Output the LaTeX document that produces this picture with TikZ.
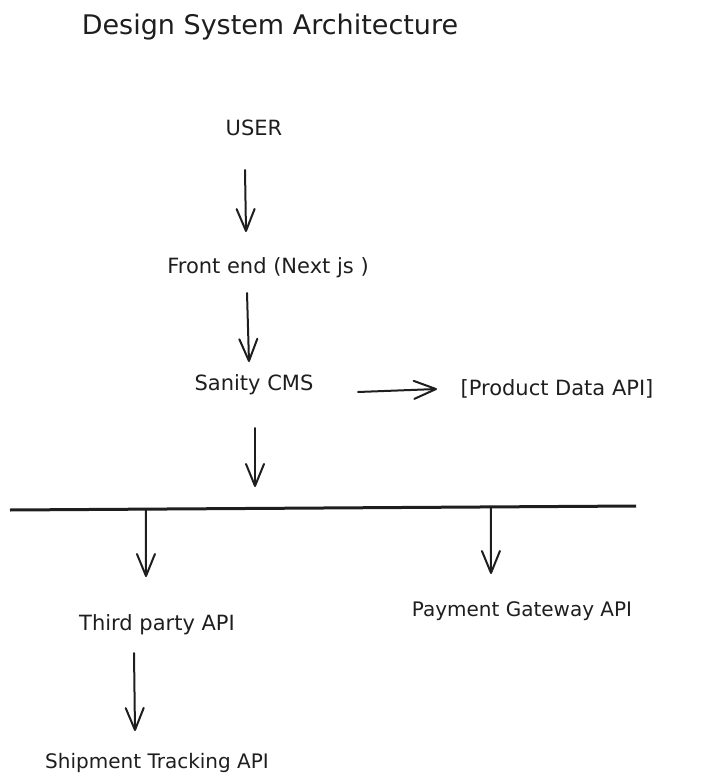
\documentclass[tikz,border=0pt]{standalone}
\usepackage{fontspec}
\setmainfont{DejaVu Sans}
\usetikzlibrary{arrows.meta,calc}

\definecolor{ink}{HTML}{1E1E1E}
\tikzset{
  lbl/.style={anchor=base, inner sep=0pt, text=ink, font=\fontsize{21}{25}\selectfont},
  arr/.style={ink, line width=2pt, line cap=round, -{Straight Barb[length=22pt,width=18pt,line cap=round,line join=round]}},
}

\begin{document}
\begin{tikzpicture}[x=1pt,y=-1pt]
                \useasboundingbox (0,0) rectangle (701,783);
                \node[lbl, font=\fontsize{27}{31}\selectfont] (title) at (270,35) {Design System Architecture};
                \node[lbl] (user) at (254,136) {USER};
                \node[lbl] (front) at (268,273) {Front end (Next js )};
                \node[lbl] (cms) at (254,390) {Sanity CMS};
                \node[lbl] (product) at (557,395) {[Product Data API]};
                \node[lbl] (third) at (157,630) {Third party API};
                \node[lbl, font=\fontsize{20}{24}\selectfont] (payment) at (522,616) {Payment Gateway API};
                \node[lbl, font=\fontsize{20}{24}\selectfont] (shipment) at (157,768) {Shipment Tracking API};
                % bus line
                \coordinate (busL) at (10,510);
                \coordinate (busR) at (636,506);
                \draw[ink, line width=3pt] (busL) -- (busR);
                \draw[arr] ($(user.base)+(-9,34)$) -- ($(front.base)+(-22,-41)$);
                \draw[arr] ($(front.base)+(-21,20)$) -- ($(cms.base)+(-5,-28)$);
                \draw[arr] ($(cms.base)+(104,2)$) -- ($(product.base)+(-120,-6)$);
                \draw[arr] ($(cms.base)+(1,38)$) -- ($(cms.base)+(1,97)$);
                \draw[arr] ($(busL)!0.217!(busR)$) -- ($(third.base)+(-11,-53)$);
                \draw[arr] ($(busL)!0.768!(busR)$) -- ($(payment.base)+(-31,-42)$);
                \draw[arr] ($(third.base)+(-23,23)$) -- ($(shipment.base)+(-22,-37)$);
            \end{tikzpicture}
\end{document}
